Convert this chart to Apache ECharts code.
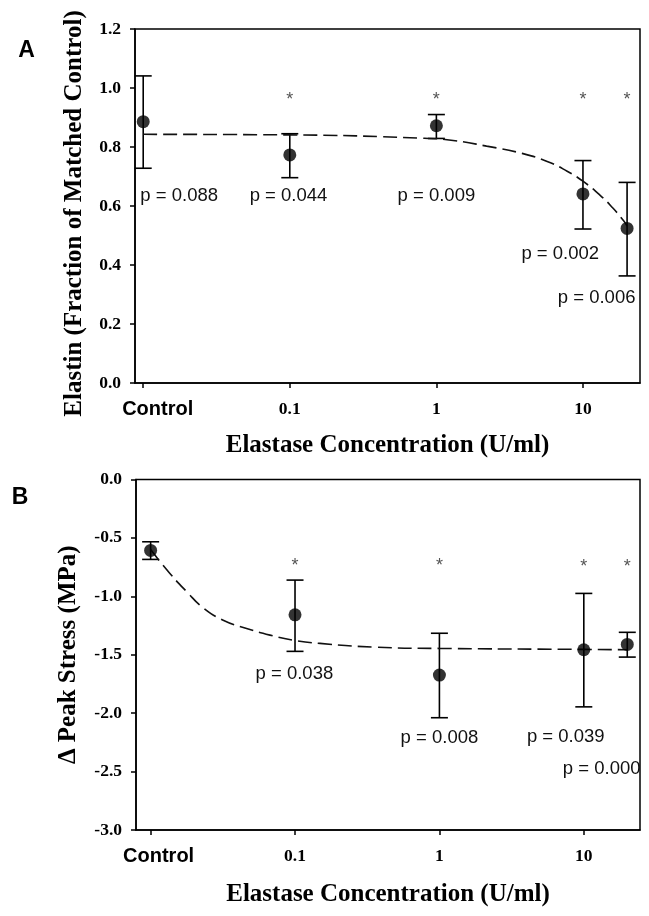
<!DOCTYPE html>
<html><head><meta charset="utf-8">
<script src="https://cdn.jsdelivr.net/npm/echarts@6/dist/echarts.min.js"></script>
<style>html,body{margin:0;padding:0;background:#fff}#c{width:649px;height:916px}</style>
</head><body><div id="c"></div>
<script>
// ---- data ----
const tickLabels = ['Control', '0.1', '1', '10'];
const tickDoses = [0.01, 0.1, 1, 10];          // "Control" is drawn at the 0.01 position
const doses = [0.01, 0.1, 1, 10, 20];

// Panel A: elastin (fraction of matched control)
const elastinMean  = [0.886, 0.773, 0.872, 0.641, 0.524];
const elastinUpper = [1.041, 0.845, 0.910, 0.754, 0.680];
const elastinLower = [0.728, 0.696, 0.829, 0.522, 0.363];
const elastinStarY = [null, 0.971, 0.971, 0.968, 0.968];
const elastinPText = ['p = 0.088', 'p = 0.044', 'p = 0.009', 'p = 0.002', 'p = 0.006'];
const elastinPDose = [0.0176, 0.098, 1.0, 7.0, 12.4];
const elastinPY    = [0.635, 0.635, 0.635, 0.439, 0.287];
const elastinFitDose = [0.01, 0.1, 0.8, 1.3, 2.2, 3.8, 5.7, 7.8, 10, 13, 16, 19, 20];
const elastinFitY    = [0.843, 0.841, 0.830, 0.822, 0.803, 0.779, 0.751, 0.718, 0.684, 0.638, 0.593, 0.549, 0.532];

// Panel B: delta peak stress (MPa)
const stressMean  = [-0.607, -1.158, -1.674, -1.457, -1.412];
const stressUpper = [-0.533, -0.861, -1.316, -0.975, -1.308];
const stressLower = [-0.684, -1.471, -2.039, -1.946, -1.520];
const stressStarY = [null, -0.713, -0.713, -0.727, -0.727];
const stressPText = [null, 'p = 0.038', 'p = 0.008', 'p = 0.039', 'p = 0.000'];
const stressPDose = [null, 0.099, 1.0, 7.5, 13.3];
const stressPY    = [null, -1.66, -2.215, -2.207, -2.481];
const stressFitDose = [0.01, 0.0136, 0.0178, 0.0232, 0.0318, 0.0462, 0.0671, 0.0973, 0.149, 0.349, 1, 10, 20];
const stressFitY    = [-0.600, -0.804, -0.961, -1.100, -1.204, -1.275, -1.332, -1.375, -1.403, -1.434, -1.446, -1.454, -1.457];

const elastinTicks = [0, 0.2, 0.4, 0.6, 0.8, 1.0, 1.2];
const stressTicks = [-3.0, -2.5, -2.0, -1.5, -1.0, -0.5, 0.0];

// ---- helpers ----
const L = Math.log10;
const SERIF = 'Liberation Serif';
const SANS = 'Liberation Sans';

function pairs(xs, ys) { return xs.map((x, i) => [L(x), ys[i]]); }

function errSeries(gi, lower, upper) {
  return {
    type: 'custom', xAxisIndex: gi, yAxisIndex: gi, z: 2, silent: true,
    data: doses.map((d, i) => [L(d), lower[i], upper[i]]),
    renderItem: function (params, api) {
      const x = api.value(0);
      const lo = api.coord([x, api.value(1)]);
      const hi = api.coord([x, api.value(2)]);
      const w = 8.5, st = { stroke: '#000', lineWidth: 1.6 };
      return { type: 'group', children: [
        { type: 'line', shape: { x1: lo[0], y1: lo[1], x2: hi[0], y2: hi[1] }, style: st },
        { type: 'line', shape: { x1: lo[0] - w, y1: lo[1], x2: lo[0] + w, y2: lo[1] }, style: st },
        { type: 'line', shape: { x1: hi[0] - w, y1: hi[1], x2: hi[0] + w, y2: hi[1] }, style: st }
      ]};
    }
  };
}

function textSeries(gi, xs, ys, texts, font, color, dy) {
  const items = [];
  xs.forEach((x, i) => { if (x != null && ys[i] != null) items.push({ value: [L(x), ys[i]], t: texts[i] }); });
  return {
    type: 'custom', xAxisIndex: gi, yAxisIndex: gi, z: 5, silent: true, clip: true,
    data: items.map(o => o.value),
    renderItem: function (params, api) {
      const p = api.coord([api.value(0), api.value(1)]);
      return { type: 'text', x: p[0], y: p[1] + dy,
        style: { text: items[params.dataIndex].t, font: font, fill: color, align: 'center', verticalAlign: 'middle' } };
    }
  };
}

function xAxisCfg(gi, minD, maxD, ctrlPad, nameGap) {
  return {
    type: 'value', gridIndex: gi, min: L(minD), max: L(maxD),
    name: 'Elastase Concentration (U/ml)', nameLocation: 'middle', nameGap: nameGap,
    nameTextStyle: { fontFamily: SERIF, fontWeight: 'bold', fontSize: 25, color: '#000' },
    axisLine: { show: true, onZero: false, lineStyle: { color: '#000', width: 1.5 } },
    axisTick: { show: true, inside: false, length: 5, lineStyle: { color: '#000', width: 1.5 }, customValues: tickDoses.map(L) },
    axisLabel: {
      show: true, margin: 15, customValues: tickDoses.map(L),
      formatter: function (v) {
        let k = 0, best = 1e9;
        tickDoses.forEach((d, i) => { const e = Math.abs(L(d) - v); if (e < best) { best = e; k = i; } });
        return k === 0 ? '{c|' + tickLabels[0] + '}' : '{n|' + tickLabels[k] + '}';
      },
      rich: {
        c: { fontFamily: SANS, fontWeight: 'bold', fontSize: 20, color: '#000', padding: [0, 0, 0, ctrlPad], lineHeight: 22 },
        n: { fontFamily: SERIF, fontWeight: 'bold', fontSize: 17.5, color: '#000', lineHeight: 22 }
      }
    },
    splitLine: { show: false }
  };
}

function yAxisCfg(gi, ticks, name, nameGap, namePad) {
  return {
    type: 'value', gridIndex: gi, min: ticks[0], max: ticks[ticks.length - 1], interval: ticks[1] - ticks[0],
    name: name, nameLocation: 'middle', nameGap: nameGap,
    nameTextStyle: { fontFamily: SERIF, fontWeight: 'bold', fontSize: 25, color: '#000', padding: namePad },
    axisLine: { show: true, onZero: false, lineStyle: { color: '#000', width: 1.5 } },
    axisTick: { show: true, inside: false, length: 5, lineStyle: { color: '#000', width: 1.5 } },
    axisLabel: { margin: 14, fontFamily: SERIF, fontWeight: 'bold', fontSize: 17.5, color: '#000',
      formatter: v => v.toFixed(1) },
    splitLine: { show: false }
  };
}

function fitSeries(gi, xs, ys) {
  return { type: 'line', xAxisIndex: gi, yAxisIndex: gi, z: 3, silent: true, smooth: 0.5,
    showSymbol: false, symbol: 'none', data: pairs(xs, ys),
    lineStyle: { color: '#111', width: 1.6, type: [14, 6] } };
}

function pointSeries(gi, ys) {
  return { type: 'scatter', xAxisIndex: gi, yAxisIndex: gi, z: 4, silent: true,
    symbol: 'circle', symbolSize: 13, itemStyle: { color: '#000' }, data: pairs(doses, ys) };
}

const chart = echarts.init(document.getElementById('c'), null, { renderer: 'canvas' });
chart.setOption({
  animation: false,
  backgroundColor: '#fff',
  grid: [
    { left: 135, right: 9, top: 29, height: 354, show: true, borderColor: '#000', borderWidth: 1.5, containLabel: false },
    { left: 136, right: 9, top: 479.5, height: 350.5, show: true, borderColor: '#000', borderWidth: 1.5, containLabel: false }
  ],
  xAxis: [ xAxisCfg(0, 0.00879, 24.5, 29, 50), xAxisCfg(1, 0.00792, 24.5, 16, 52) ],
  yAxis: [
    yAxisCfg(0, elastinTicks, 'Elastin (Fraction of Matched Control)', 48, [0, 15, 0, 0]),
    yAxisCfg(1, stressTicks, '\u0394 Peak Stress (MPa)', 55, 0)
  ],
  graphic: [
    { type: 'text', x: 26.5, y: 50.5, style: { text: 'A', font: 'bold 23px ' + SANS, fill: '#000', align: 'center', verticalAlign: 'middle' } },
    { type: 'text', x: 20, y: 498, style: { text: 'B', font: 'bold 23px ' + SANS, fill: '#000', align: 'center', verticalAlign: 'middle' } }
  ],
  series: [
    errSeries(0, elastinLower, elastinUpper),
    fitSeries(0, elastinFitDose, elastinFitY),
    pointSeries(0, elastinMean),
    textSeries(0, doses, elastinStarY, doses.map(() => '*'), '18px ' + SANS, '#555', 3),
    textSeries(0, elastinPDose, elastinPY, elastinPText, '18.5px ' + SANS, '#111', 0),

    errSeries(1, stressLower, stressUpper),
    fitSeries(1, stressFitDose, stressFitY),
    pointSeries(1, stressMean),
    textSeries(1, doses, stressStarY, doses.map(() => '*'), '18px ' + SANS, '#555', 3),
    textSeries(1, stressPDose, stressPY, stressPText, '18.5px ' + SANS, '#111', 0)
  ]
});
</script></body></html>
